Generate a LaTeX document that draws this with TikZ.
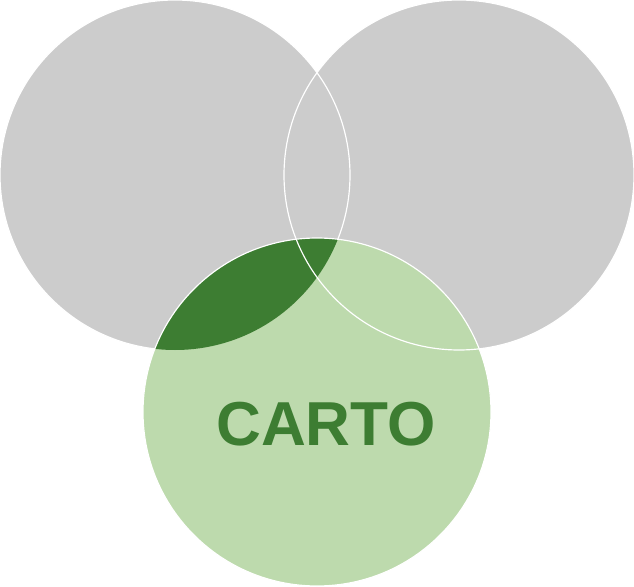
\documentclass[tikz,border=0pt]{standalone}
\usepackage{fontspec}
\setmainfont{Liberation Sans}
\definecolor{cgray}{RGB}{204,204,204}
\definecolor{clight}{RGB}{189,218,173}
\definecolor{cdark}{RGB}{61,125,50}
\tikzset{
  outline/.style={draw=white,line width=1pt},
}
\begin{document}
\begin{tikzpicture}[x=0.03cm,y=-0.03cm]
\useasboundingbox (0,0) rectangle (634,587);
\coordinate (L) at (175,175);
\coordinate (R) at (459,175);
\coordinate (B) at (317,412);
% fills
\fill[cgray] (L) circle (175);
\fill[cgray] (R) circle (175);
\fill[clight] (B) circle (174);
\begin{scope}
  \clip (L) circle (175);
  \fill[cdark] (B) circle (174);
\end{scope}
% outlines
\begin{scope}[even odd rule]
  \clip (-10,-10) rectangle (644,597) (B) circle (174);
  \draw[outline] (L) circle (175);
\end{scope}
\draw[outline] (R) circle (175);
\draw[outline] (B) circle (174);
\node[text=cdark,font=\fontsize{53}{60}\selectfont\bfseries] (carto) at (326,424) {CARTO};
\end{tikzpicture}
\end{document}
